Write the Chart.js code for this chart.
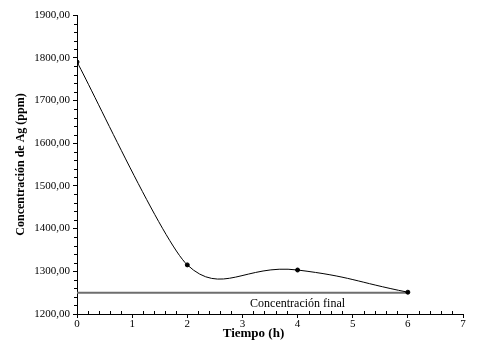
<!DOCTYPE html>
<html>
<head>
<meta charset="utf-8">
<script src="https://cdn.jsdelivr.net/npm/chart.js@4/dist/chart.umd.min.js"></script>
<style>
  html, body { margin: 0; padding: 0; background: #fff; }
  #wrap { width: 503px; height: 351px; }
</style>
</head>
<body>
<div id="wrap"><canvas id="myChart" width="503" height="351"></canvas></div>
<script>
// data
const horas = [0, 2, 4, 6];
const concentracion = [1790, 1315, 1303, 1251];
const finalX = [0, 6];
const finalY = [1250, 1250];
const finalLabel = 'Concentración final';
const xTicks = [0, 1, 2, 3, 4, 5, 6, 7];
const yTicks = [1200, 1300, 1400, 1500, 1600, 1700, 1800, 1900];

const serif = '"Liberation Serif", "DejaVu Serif", serif';
const pts = horas.map((h, i) => ({ x: h, y: concentracion[i] }));

// minor ticks, x title and label for final line
const extras = {
  id: 'extras',
  afterDraw(chart) {
    const { ctx, scales: { x, y } } = chart;
    ctx.save();
    ctx.strokeStyle = '#000';
    ctx.lineWidth = 1;
    ctx.beginPath();
    // y minor ticks every 20, pointing left
    for (let v = yTicks[0]; v < yTicks[yTicks.length - 1]; v += 20) {
      if (v % 100 === 0) continue;
      const py = Math.round(y.getPixelForValue(v)) + 0.5;
      ctx.moveTo(x.left - 3, py);
      ctx.lineTo(x.left, py);
    }
    // x minor ticks every 0.2, pointing up
    for (let i = 1; i < 35; i++) {
      if (i % 5 === 0) continue;
      const px = Math.round(x.getPixelForValue(i / 5)) + 0.5;
      ctx.moveTo(px, y.bottom);
      ctx.lineTo(px, y.bottom - 3);
    }
    ctx.stroke();

    ctx.fillStyle = '#000';
    ctx.textAlign = 'center';
    ctx.textBaseline = 'middle';
    ctx.font = '12px ' + serif;
    ctx.fillText(finalLabel, x.getPixelForValue(4), y.getPixelForValue(finalY[0]) + 11);
    ctx.font = 'bold 13px ' + serif;
    ctx.fillText('Tiempo (h)', x.getPixelForValue(3.2), y.bottom + 20);
    ctx.restore();
  }
};

new Chart(document.getElementById('myChart'), {
  type: 'scatter',
  plugins: [extras],
  data: {
    datasets: [
      {
        // smoothed curve; first stretch drawn by the gentler dataset below
        label: 'Concentración de Ag',
        data: pts,
        showLine: true,
        borderColor: '#000',
        borderWidth: 1,
        tension: 0.48,
        segment: { borderColor: (c) => c.p0DataIndex === 0 ? 'transparent' : '#000' },
        pointRadius: 2,
        pointBackgroundColor: '#000',
        pointBorderColor: '#000'
      },
      {
        label: 'tramo inicial',
        data: pts,
        showLine: true,
        borderColor: '#000',
        borderWidth: 1,
        tension: 0.16,
        segment: { borderColor: (c) => c.p0DataIndex === 0 ? '#000' : 'transparent' },
        pointRadius: 0
      },
      {
        label: finalLabel,
        data: finalX.map((h, i) => ({ x: h, y: finalY[i] })),
        showLine: true,
        borderColor: '#6e6e6e',
        borderWidth: 2,
        pointRadius: 0
      }
    ]
  },
  options: {
    responsive: false,
    animation: false,
    layout: { padding: { top: 15, right: 40, left: 0, bottom: 0 } },
    plugins: { legend: { display: false }, tooltip: { enabled: false } },
    scales: {
      x: {
        type: 'linear',
        min: 0, max: 7,
        afterBuildTicks: (s) => { s.ticks = xTicks.map(v => ({ value: v })); },
        afterFit: (s) => { s.height = 37; },
        grid: { drawOnChartArea: false, tickLength: 4, color: '#000' },
        border: { color: '#000', width: 1 },
        ticks: { color: '#000', padding: 0, font: { family: serif, size: 11 } }
      },
      y: {
        min: 1200, max: 1900,
        afterBuildTicks: (s) => { s.ticks = yTicks.map(v => ({ value: v })); },
        afterFit: (s) => { s.width = 77; },
        grid: { drawOnChartArea: false, tickLength: 4, color: '#000' },
        border: { color: '#000', width: 1 },
        ticks: {
          color: '#000', padding: 3,
          font: { family: serif, size: 11 },
          callback: (v) => v.toFixed(2).replace('.', ',')
        },
        title: {
          display: true, text: 'Concentración de Ag (ppm)', color: '#000',
          padding: { top: 14, bottom: 0 },
          font: { family: serif, size: 12, weight: 'bold' }
        }
      }
    }
  }
});
</script>
</body>
</html>
